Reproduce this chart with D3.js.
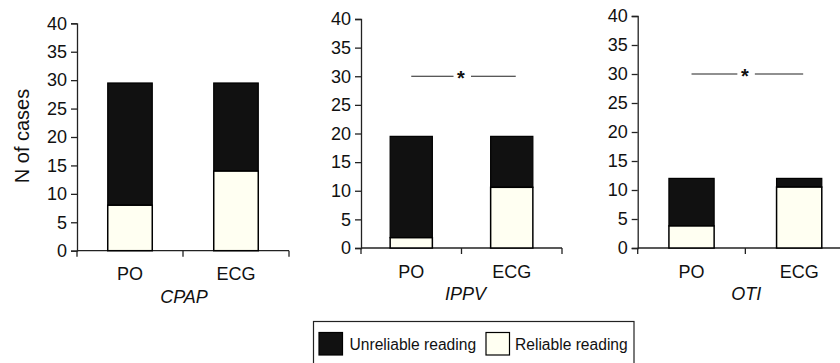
<!DOCTYPE html>
<html>
<head>
<meta charset="utf-8">
<script src="https://cdn.jsdelivr.net/npm/d3@7"></script>
<style>
  html, body { margin: 0; padding: 0; background: #fff; }
  svg { display: block; font-family: "Liberation Sans", Arial, Helvetica, sans-serif; }
</style>
</head>
<body>
<svg id="chart" width="840" height="363"></svg>
<script>
// ---- data ----
const panels = ["CPAP", "IPPV", "OTI"];
const categories = ["PO", "ECG"];
const reliable = [[8, 14], [1.8, 10.6], [3.8, 10.5]];
const unreliable = [[21.5, 15.5], [17.7, 8.9], [8.2, 1.5]];
const significant = [false, true, true];
const yTicks = [0, 5, 10, 15, 20, 25, 30, 35, 40];
const sigLevel = 30;
const seriesNames = ["Unreliable reading", "Reliable reading"];
const yLabel = "N of cases";

// ---- layout ----
const layout = [
  { x0: 77, x1: 289, y0: 250.7, y1: 23.3 },
  { x0: 361, x1: 562, y0: 248, y1: 19 },
  { x0: 637.7, x1: 853, y0: 248, y1: 16 }
];
const colUnrel = "#111111";
const colRel = "#fffff2";

const svg = d3.select("#chart");

panels.forEach((name, i) => {
  const L = layout[i];
  const g = svg.append("g");
  const x = d3.scaleBand().domain(categories).range([L.x0, L.x1])
    .paddingInner(0.58).paddingOuter(0.29);
  const y = d3.scaleLinear().domain([0, 40]).range([L.y0, L.y1]);

  // y axis
  const ya = g.append("g").attr("transform", `translate(${L.x0},0)`)
    .call(d3.axisLeft(y).tickValues(yTicks).tickSize(6).tickPadding(4));
  ya.select(".domain").attr("stroke", "#222").attr("stroke-width", 1.3);
  ya.selectAll(".tick line").attr("stroke", "#222").attr("stroke-width", 1.3);
  ya.selectAll(".tick text").attr("font-size", 18).attr("fill", "#111")
    .attr("font-family", "Liberation Sans, Arial, sans-serif");

  // x axis: ticks at band boundaries, drawn as a line with downward ticks
  const xa = g.append("g").attr("transform", `translate(0,${L.y0})`);
  const bounds = [L.x0, (x(categories[0]) + x.bandwidth() + x(categories[1])) / 2, L.x1];
  xa.append("line").attr("x1", L.x0).attr("x2", L.x1).attr("y1", 0).attr("y2", 0)
    .attr("stroke", "#222").attr("stroke-width", 1.3);
  xa.selectAll("line.tk").data(bounds).join("line").attr("class", "tk")
    .attr("x1", d => d).attr("x2", d => d).attr("y1", 0).attr("y2", 6)
    .attr("stroke", "#222").attr("stroke-width", 1.3);
  xa.selectAll("text.cat").data(categories).join("text").attr("class", "cat")
    .attr("x", d => x(d) + x.bandwidth() / 2).attr("y", 29.5)
    .attr("text-anchor", "middle").attr("font-size", 18).attr("fill", "#111").text(d => d);

  // panel title
  g.append("text").attr("x", bounds[1] + (i === 1 ? 4 : 1)).attr("y", L.y0 + 52)
    .attr("text-anchor", "middle").attr("font-size", 18).attr("font-style", "italic")
    .attr("fill", "#111").text(name);

  // stacked bars
  categories.forEach((c, j) => {
    const r = reliable[i][j], u = unreliable[i][j];
    g.append("rect").attr("x", x(c)).attr("width", x.bandwidth())
      .attr("y", y(r + u)).attr("height", y(r) - y(r + u))
      .attr("fill", colUnrel).attr("stroke", "#000").attr("stroke-width", 1.2);
    g.append("rect").attr("x", x(c)).attr("width", x.bandwidth())
      .attr("y", y(r)).attr("height", y(0) - y(r))
      .attr("fill", colRel).attr("stroke", "#000").attr("stroke-width", 1.5);
  });

  // significance marker
  if (significant[i]) {
    const yy = y(sigLevel);
    const c0 = x(categories[0]) + x.bandwidth() / 2;
    const c1 = x(categories[1]) + x.bandwidth() / 2 + 4;
    const mid = bounds[1];
    g.append("line").attr("x1", c0).attr("x2", mid - 8).attr("y1", yy).attr("y2", yy)
      .attr("stroke", "#222").attr("stroke-width", 1.2);
    g.append("line").attr("x1", mid + 9.5).attr("x2", c1).attr("y1", yy).attr("y2", yy)
      .attr("stroke", "#222").attr("stroke-width", 1.2);
    g.append("text").attr("x", mid - 0.5).attr("y", yy + 9).attr("text-anchor", "middle")
      .attr("font-size", 20).attr("font-weight", "bold").attr("fill", "#111").text("*");
  }
});

// y axis label
svg.append("text").attr("transform", "translate(29,136) rotate(-90)")
  .attr("text-anchor", "middle").attr("font-size", 20).attr("fill", "#111").text(yLabel);

// legend
const lg = svg.append("g");
lg.append("rect").attr("x", 313.5).attr("y", 321.5).attr("width", 320.5).attr("height", 45)
  .attr("fill", "#fff").attr("stroke", "#222").attr("stroke-width", 1.2);
const legendItems = [
  { name: seriesNames[0], fill: colUnrel, sx: 319, tx: 349.5 },
  { name: seriesNames[1], fill: colRel, sx: 486, tx: 515 }
];
legendItems.forEach(it => {
  lg.append("rect").attr("x", it.sx).attr("y", 332.5).attr("width", 23.5).attr("height", 22.5)
    .attr("fill", it.fill).attr("stroke", "#000").attr("stroke-width", 1.2);
  lg.append("text").attr("x", it.tx).attr("y", 349.5).attr("font-size", 15.6)
    .attr("fill", "#111").text(it.name);
});
</script>
</body>
</html>
